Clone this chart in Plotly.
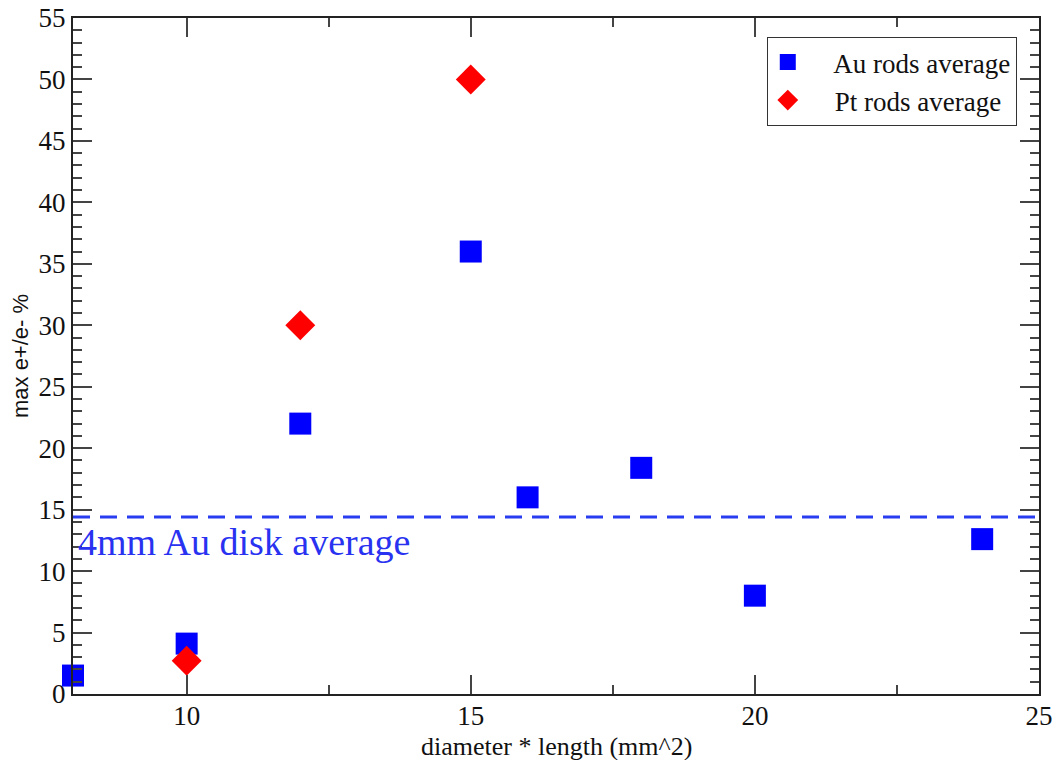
import plotly.graph_objects as go

au_x = [8, 10, 12, 15, 16, 18, 20, 24]
au_y = [1.5, 4.1, 22, 36, 16, 18.4, 8, 12.6]
pt_x = [10, 12, 15]
pt_y = [2.7, 30, 50]
disk_avg = 14.4
disk_label = "4mm Au disk average"
x_title = "diameter * length (mm^2)"
y_title = "max e+/e- %"

serif = "Liberation Serif, Times New Roman, serif"

fig = go.Figure()
fig.add_trace(go.Scatter(x=au_x, y=au_y, mode="markers", name="    Au rods average",
                         marker=dict(symbol="square", size=22, color="#0000ff"),
                         cliponaxis=False))
fig.add_trace(go.Scatter(x=pt_x, y=pt_y, mode="markers", name="    Pt rods average",
                         marker=dict(symbol="diamond", size=23, color="#ff0000"),
                         cliponaxis=False))

fig.add_shape(type="line", xref="paper", yref="y", x0=0, x1=1, y0=disk_avg, y1=disk_avg,
              line=dict(color="rgb(40,60,240)", width=3, dash="17px,10px"))
fig.add_annotation(x=8.05, y=12.4, xref="x", yref="y", text=disk_label, showarrow=False,
                   xanchor="left", yanchor="middle",
                   font=dict(family=serif, size=38, color="rgb(40,50,240)"))
fig.add_annotation(x=0.5, y=0, xref="paper", yref="paper", text=x_title, showarrow=False,
                   xanchor="center", yanchor="middle", yshift=-52,
                   font=dict(family=serif, size=26, color="#111"))

axis_common = dict(showline=True, linecolor="#222", linewidth=2, mirror="allticks",
                   ticks="inside", ticklen=19, tickwidth=2, tickcolor="#444",
                   showgrid=False, zeroline=False, automargin=False,
                   tickfont=dict(family=serif, size=27, color="#111"))

fig.update_xaxes(range=[8, 25], tick0=0, dtick=5, ticklabelstandoff=-3,
                 minor=dict(ticks="inside", ticklen=9, tickwidth=2, tickcolor="#444", dtick=2.5, showgrid=False),
                 **axis_common)
fig.update_yaxes(range=[0, 55], tick0=0, dtick=5,
                 minor=dict(ticks="inside", ticklen=9, tickwidth=2, tickcolor="#444", dtick=1, showgrid=False),
                 title=dict(text=y_title, font=dict(family="Liberation Sans, Arial, sans-serif", size=22, color="#111"),
                            standoff=4),
                 **axis_common)

fig.update_layout(
    width=1055, height=760,
    margin=dict(l=73, r=16, t=18, b=66),
    paper_bgcolor="white", plot_bgcolor="white",
    showlegend=True,
    legend=dict(x=0.977, y=0.972, xanchor="right", yanchor="top",
                bgcolor="white", bordercolor="#333", borderwidth=1,
                font=dict(family=serif, size=27, color="#111"),
                itemsizing="trace", tracegroupgap=0),
)

fig.write_html("out.html")
